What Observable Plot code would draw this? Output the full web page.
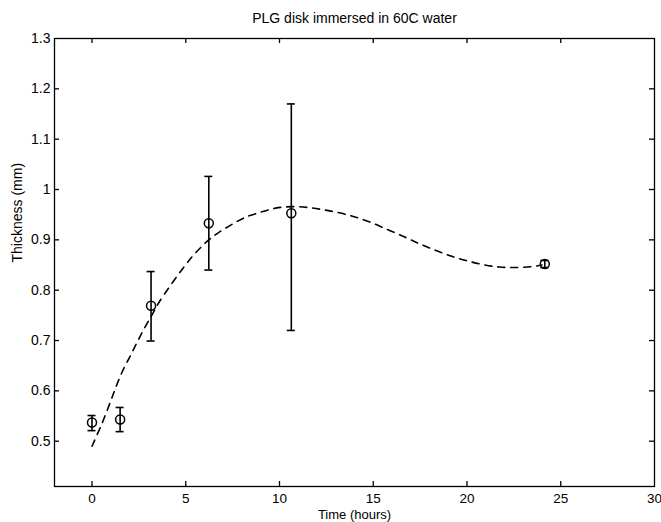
<!DOCTYPE html>
<html>
<head>
<meta charset="utf-8">
<script src="https://cdn.jsdelivr.net/npm/d3@7"></script>
<script src="https://cdn.jsdelivr.net/npm/@observablehq/plot@0.6"></script>
<style>
  html, body { margin: 0; padding: 0; background: #fff; }
  svg { display: block; }
</style>
</head>
<body>
<div id="chart"></div>
<script>
// Measured samples (time in hours, thickness in mm)
const time      = [0, 1.5, 3.15, 6.23, 10.63, 24.15];
const thickness = [0.537, 0.543, 0.769, 0.933, 0.953, 0.852];
const errLow    = [0.521, 0.519, 0.699, 0.840, 0.720, 0.845];
const errHigh   = [0.551, 0.567, 0.837, 1.026, 1.170, 0.859];

// Dashed fitted curve
const fitTime = [0, 0.53, 0.98, 1.25, 1.6, 2.05, 2.4, 2.76, 3.2, 3.56, 4.9, 5.52, 6.23, 6.77, 7.48, 8.19, 8.99, 9.79, 10.68, 11.58, 12.46, 13.5, 14.7, 15.85, 16.83, 17.54, 18.34, 19.14, 19.94, 20.83, 21.73, 22.6, 23.5, 24.0];
const fitThick = [0.490, 0.535, 0.578, 0.605, 0.637, 0.670, 0.696, 0.722, 0.751, 0.775, 0.846, 0.874, 0.900, 0.915, 0.931, 0.945, 0.955, 0.963, 0.966, 0.964, 0.959, 0.951, 0.937, 0.919, 0.903, 0.891, 0.879, 0.868, 0.859, 0.851, 0.846, 0.845, 0.847, 0.850];

// Axis ticks and text
const xTicks = [0, 5, 10, 15, 20, 25, 30];
const yTicks = [0.5, 0.6, 0.7, 0.8, 0.9, 1.0, 1.1, 1.2, 1.3];
const titleText = "PLG disk immersed in 60C water";
const xLabel = "Time (hours)";
const yLabel = "Thickness (mm)";

const points = time.map((t, i) => ({t, v: thickness[i], lo: errLow[i], hi: errHigh[i]}));
const fit = fitTime.map((t, i) => ({t, v: fitThick[i]}));

const W = 661, H = 522, mL = 54, mR = 7, mT = 38, mB = 36;
const pw = W - mL - mR, ph = H - mT - mB, tk = 5;
const font = "'Liberation Sans', Arial, Helvetica, sans-serif";

const chart = Plot.plot({
  width: W, height: H,
  marginLeft: mL, marginRight: mR, marginTop: mT, marginBottom: mB,
  style: {fontFamily: font, fontSize: "14px", color: "#000", background: "#fff"},
  x: {domain: [-2, 30]},
  y: {domain: [0.41, 1.3]},
  marks: [
    Plot.frame({stroke: "#000", strokeWidth: 1.3}),
    Plot.axisX(xTicks, {tickSize: 0, tickPadding: 7, label: null, fontSize: 13.5, tickFormat: d => String(d)}),
    Plot.axisY(yTicks, {tickSize: 0, tickPadding: 4, label: null, fontSize: 14, tickFormat: d => String(+d.toFixed(1))}),
    // inward ticks on all four sides
    Plot.tickX(xTicks.filter(d => d < 30), {x: d => d, insetTop: ph - tk, stroke: "#000", strokeWidth: 1.3}),
    Plot.tickX(xTicks.filter(d => d < 30), {x: d => d, insetBottom: ph - tk, stroke: "#000", strokeWidth: 1.3}),
    Plot.tickY(yTicks.filter(d => d < 1.3), {y: d => d, insetRight: pw - tk, stroke: "#000", strokeWidth: 1.3}),
    Plot.tickY(yTicks.filter(d => d < 1.3), {y: d => d, insetLeft: pw - tk, stroke: "#000", strokeWidth: 1.3}),
    // dashed fit
    Plot.line(fit, {x: "t", y: "v", curve: "catmull-rom", stroke: "#000", strokeWidth: 1.6, strokeDasharray: "7,6"}),
    // error bars
    Plot.ruleX(points, {x: "t", y1: "lo", y2: "hi", stroke: "#000", strokeWidth: 1.6}),
    Plot.ruleY(points, {y: "hi", x1: "t", x2: "t", insetLeft: -4, insetRight: -4, stroke: "#000", strokeWidth: 1.6}),
    Plot.ruleY(points, {y: "lo", x1: "t", x2: "t", insetLeft: -4, insetRight: -4, stroke: "#000", strokeWidth: 1.6}),
    Plot.dot(points, {x: "t", y: "v", r: 4.5, stroke: "#000", strokeWidth: 1.5, fill: "none"}),
    // texts
    Plot.text([titleText], {text: d => d, frameAnchor: "top", dy: -20, fontSize: 14, lineAnchor: "middle"}),
    Plot.text([xLabel], {text: d => d, frameAnchor: "bottom", dy: 28.5, fontSize: 13, lineAnchor: "middle"}),
    Plot.text([yLabel], {text: d => d, frameAnchor: "left", dx: -37, rotate: -90, fontSize: 14, lineAnchor: "middle"})
  ]
});
document.getElementById("chart").appendChild(chart);
</script>
</body>
</html>
